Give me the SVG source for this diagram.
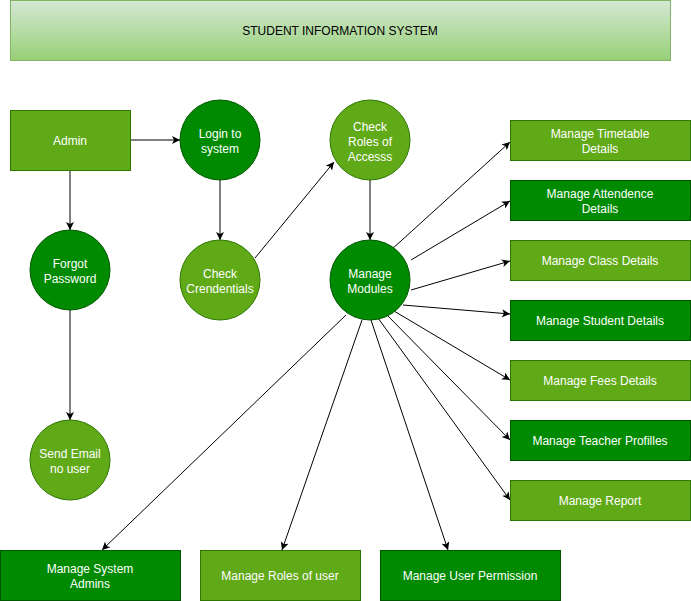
<svg xmlns="http://www.w3.org/2000/svg" width="691" height="601" viewBox="0 0 691 601">
<defs>
<linearGradient id="tg" x1="0" y1="0" x2="0" y2="1">
<stop offset="0" stop-color="#d5e8d4"/>
<stop offset="1" stop-color="#97d077"/>
</linearGradient>
<marker id="arr" markerUnits="userSpaceOnUse" markerWidth="10" markerHeight="10" refX="8" refY="4" orient="auto">
<path d="M0,0 L8,4 L0,8 L2,4 z" fill="#000"/>
</marker>
<style>
.lt{fill:#60a917;stroke:#2d7600;stroke-width:1}
.dk{fill:#008a00;stroke:#005700;stroke-width:1}
text{font-family:"Liberation Sans",Arial,Helvetica,sans-serif;font-size:12px;text-anchor:middle}
.w{fill:#ffffff}
.e{fill:none;stroke:#000;stroke-width:1;marker-end:url(#arr)}
</style>
</defs>
<rect width="691" height="601" fill="#ffffff"/>
<g id="title">
<rect x="10.5" y="0.5" width="660" height="60" fill="url(#tg)" stroke="#82b366"/>
<text x="340" y="35" fill="#000">STUDENT INFORMATION SYSTEM</text>
</g>
<g id="edges">
<path class="e" d="M130,140 L180,140"/>
<path class="e" d="M70,170 L70,230"/>
<path class="e" d="M70,310 L70,420"/>
<path class="e" d="M220,180 L220,240"/>
<path class="e" d="M255,258 L334,162"/>
<path class="e" d="M370,180 L370,240"/>
<path class="e" d="M391,250 L510,142"/>
<path class="e" d="M411,260 L510,201"/>
<path class="e" d="M411,290 L510,261"/>
<path class="e" d="M403,305 L510,314"/>
<path class="e" d="M394,311 L510,380"/>
<path class="e" d="M386,314 L510,440"/>
<path class="e" d="M378,318 L510,500"/>
<path class="e" d="M371,320 L448,550"/>
<path class="e" d="M362,320 L282,550"/>
<path class="e" d="M346,315 L102,550"/>
</g>
<g id="admin"><rect class="lt" x="10.5" y="110.5" width="120" height="60"/><text class="w" x="70" y="145">Admin</text></g>
<g id="login"><circle class="dk" cx="220" cy="140" r="40"/><text class="w" x="220" y="138">Login to</text><text class="w" x="220" y="153">system</text></g>
<g id="forgot"><circle class="dk" cx="70" cy="270" r="40"/><text class="w" x="70" y="268">Forgot</text><text class="w" x="70" y="283">Password</text></g>
<g id="checkcred"><circle class="lt" cx="220" cy="280" r="40"/><text class="w" x="220" y="278">Check</text><text class="w" x="220" y="293">Crendentials</text></g>
<g id="sendemail"><circle class="lt" cx="70" cy="460" r="40"/><text class="w" x="70" y="458">Send Email</text><text class="w" x="70" y="473">no user</text></g>
<g id="checkroles"><circle class="lt" cx="370" cy="140" r="40"/><text class="w" x="370" y="131">Check</text><text class="w" x="370" y="146">Roles of</text><text class="w" x="370" y="161">Accesss</text></g>
<g id="modules"><circle class="dk" cx="370" cy="280" r="40"/><text class="w" x="370" y="278">Manage</text><text class="w" x="370" y="293">Modules</text></g>
<g id="timetable"><rect class="lt" x="510.5" y="120.5" width="180" height="40"/><text class="w" x="600" y="138">Manage Timetable</text><text class="w" x="600" y="153">Details</text></g>
<g id="attendence"><rect class="dk" x="510.5" y="180.5" width="180" height="40"/><text class="w" x="600" y="198">Manage Attendence</text><text class="w" x="600" y="213">Details</text></g>
<g id="class"><rect class="lt" x="510.5" y="240.5" width="180" height="40"/><text class="w" x="600" y="265">Manage Class Details</text></g>
<g id="student"><rect class="dk" x="510.5" y="300.5" width="180" height="40"/><text class="w" x="600" y="325">Manage Student Details</text></g>
<g id="fees"><rect class="lt" x="510.5" y="360.5" width="180" height="40"/><text class="w" x="600" y="385">Manage Fees Details</text></g>
<g id="teacher"><rect class="dk" x="510.5" y="420.5" width="180" height="40"/><text class="w" x="600" y="445">Manage Teacher Profilles</text></g>
<g id="report"><rect class="lt" x="510.5" y="480.5" width="180" height="40"/><text class="w" x="600" y="505">Manage Report</text></g>
<g id="sysadmins"><rect class="dk" x="0.5" y="550.5" width="180" height="50"/><text class="w" x="90" y="573">Manage System</text><text class="w" x="90" y="588">Admins</text></g>
<g id="roles"><rect class="lt" x="200.5" y="550.5" width="160" height="50"/><text class="w" x="280" y="580">Manage Roles of user</text></g>
<g id="permission"><rect class="dk" x="380.5" y="550.5" width="180" height="50"/><text class="w" x="470" y="580">Manage User Permission</text></g>
</svg>
